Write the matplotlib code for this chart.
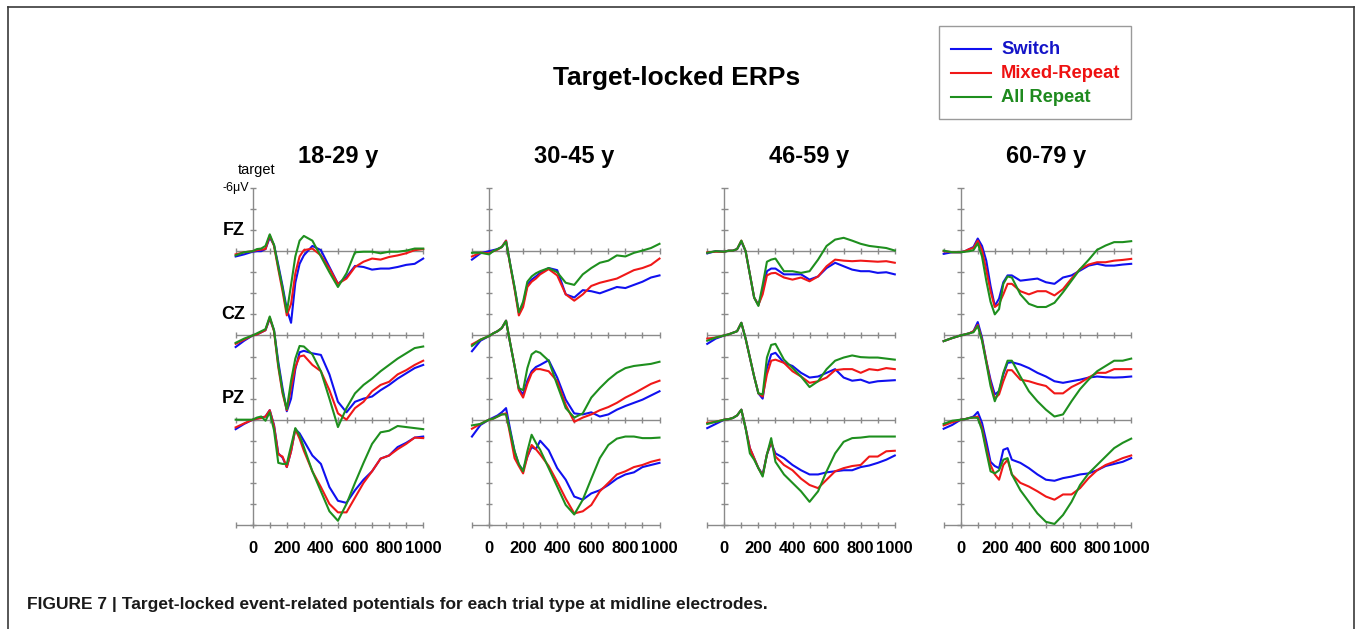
import numpy as np
import matplotlib
matplotlib.use("Agg")
import matplotlib.pyplot as plt
from matplotlib import font_manager
from matplotlib.lines import Line2D
from matplotlib.patches import Rectangle

# ---------------- data (microvolts; negative plotted upward) ----------------
time_ms = [-100, -50, 0, 25, 50, 75, 100, 125, 150, 175, 200, 225, 250, 275, 300,
           350, 400, 450, 500, 550, 600, 650, 700, 750, 800, 850, 900, 950, 1000]
age_groups = ["18-29 y", "30-45 y", "46-59 y", "60-79 y"]
electrodes = ["FZ", "CZ", "PZ"]
conditions = ["Switch", "Mixed-Repeat", "All Repeat"]
x_tick_labels = [0, 200, 400, 600, 800, 1000]

# 18-29 y
fz_18_switch = [0.5, 0.3, 0.05, 0.0, 0.0, -0.2, -1.3, -0.6, 1.3, 3.3, 5.5, 6.8, 3.0, 1.2, 0.4, -0.5, -0.1, 1.5, 3.1, 2.45, 1.4, 1.5, 1.75, 1.65, 1.65, 1.5, 1.3, 1.2, 0.7]
fz_18_mixed = [0.3, 0.1, 0.0, -0.1, -0.15, -0.2, -1.5, -0.5, 1.7, 3.8, 6.1, 5.0, 2.1, 0.5, -0.1, -0.25, 0.4, 1.65, 3.1, 2.6, 1.5, 1.0, 0.7, 0.8, 0.55, 0.4, 0.2, -0.1, -0.2]
fz_18_allrep = [0.4, 0.1, 0.0, -0.2, -0.25, -0.5, -1.6, -0.6, 1.5, 3.5, 5.8, 3.2, 0.5, -1.0, -1.45, -1.0, 0.5, 2.0, 3.4, 2.1, 0.1, 0.05, 0.05, 0.2, 0.05, 0.05, -0.05, -0.25, -0.25]
cz_18_switch = [1.1, 0.5, 0.0, -0.1, -0.3, -0.5, -1.6, -0.5, 2.5, 5.0, 7.2, 6.0, 3.2, 1.6, 1.46, 1.7, 1.85, 3.7, 6.3, 7.3, 6.3, 6.0, 5.8, 5.2, 4.7, 4.1, 3.6, 3.1, 2.8]
cz_18_mixed = [0.8, 0.4, 0.0, -0.1, -0.3, -0.5, -1.7, -0.4, 3.0, 5.5, 7.1, 5.0, 3.0, 2.0, 1.9, 2.8, 3.4, 5.2, 7.4, 8.0, 6.9, 6.3, 5.3, 4.7, 4.4, 3.7, 3.3, 2.8, 2.4]
cz_18_allrep = [0.7, 0.3, 0.0, -0.2, -0.4, -0.6, -1.8, -0.5, 2.8, 5.3, 7.0, 4.3, 2.2, 1.0, 1.05, 1.8, 3.4, 6.0, 8.7, 6.9, 5.5, 4.7, 4.1, 3.4, 2.8, 2.2, 1.7, 1.2, 1.05]
pz_18_switch = [0.9, 0.4, 0.0, -0.1, -0.2, -0.3, -0.9, 0.5, 3.2, 3.6, 4.5, 3.0, 0.9, 1.3, 2.0, 3.4, 4.2, 6.4, 7.7, 7.9, 6.7, 5.7, 4.9, 3.7, 3.4, 2.6, 2.2, 1.7, 1.6]
pz_18_mixed = [0.73, 0.35, 0.0, -0.1, -0.15, -0.3, -0.9, 0.6, 3.3, 3.5, 4.5, 3.0, 0.9, 1.8, 2.95, 4.9, 6.4, 8.0, 8.8, 8.8, 7.4, 6.0, 4.9, 3.7, 3.4, 2.8, 2.3, 1.7, 1.75]
pz_18_allrep = [0.0, 0.0, 0.0, -0.2, -0.3, 0.1, -0.7, 1.0, 4.1, 4.2, 4.2, 2.5, 0.8, 1.5, 2.6, 4.9, 6.8, 8.7, 9.6, 8.0, 6.0, 4.1, 2.3, 1.2, 1.05, 0.6, 0.7, 0.8, 0.9]

# 30-45 y
fz_30_switch = [0.8, 0.2, 0.0, -0.1, -0.2, -0.4, -1.0, 1.3, 3.5, 5.8, 5.0, 3.2, 2.7, 2.4, 2.06, 1.6, 1.8, 4.1, 4.4, 3.7, 3.8, 4.0, 3.7, 3.4, 3.5, 3.2, 2.9, 2.5, 2.3]
fz_30_mixed = [0.5, 0.15, 0.2, 0.0, -0.15, -0.4, -1.0, 1.4, 3.6, 6.1, 5.3, 3.4, 2.9, 2.6, 2.2, 1.7, 2.3, 4.1, 4.7, 4.1, 3.3, 3.0, 2.8, 2.6, 2.2, 1.8, 1.6, 1.3, 0.7]
fz_30_allrep = [0.15, 0.15, 0.3, 0.0, -0.2, -0.4, -0.9, 1.3, 3.4, 5.8, 4.8, 2.9, 2.4, 2.1, 1.9, 1.6, 2.0, 3.0, 3.2, 2.2, 1.6, 1.1, 0.9, 0.4, 0.5, 0.16, -0.06, -0.3, -0.7]
cz_30_switch = [1.5, 0.5, 0.06, -0.2, -0.4, -0.7, -1.4, 0.8, 2.9, 5.1, 5.6, 4.3, 3.4, 3.0, 2.8, 2.35, 4.0, 6.1, 7.4, 7.5, 7.3, 7.7, 7.5, 7.05, 6.7, 6.4, 6.1, 5.7, 5.3]
cz_30_mixed = [0.85, 0.4, 0.06, -0.2, -0.4, -0.7, -1.4, 0.8, 2.9, 5.2, 5.9, 4.6, 3.6, 3.2, 3.2, 3.4, 4.35, 6.6, 8.2, 7.8, 7.5, 7.1, 6.8, 6.4, 5.9, 5.5, 5.05, 4.6, 4.3]
cz_30_allrep = [1.0, 0.4, 0.06, -0.2, -0.4, -0.7, -1.4, 0.8, 2.9, 5.0, 5.2, 3.1, 1.8, 1.5, 1.65, 2.4, 4.7, 6.9, 7.8, 7.4, 5.9, 5.0, 4.2, 3.55, 3.1, 2.9, 2.8, 2.7, 2.5]
pz_30_switch = [1.6, 0.5, 0.0, -0.2, -0.4, -0.7, -1.1, 1.0, 3.0, 4.3, 4.8, 3.5, 2.6, 2.8, 2.0, 2.9, 4.6, 5.7, 7.3, 7.6, 7.0, 6.7, 6.2, 5.6, 5.2, 5.0, 4.5, 4.3, 4.1]
pz_30_mixed = [0.86, 0.4, 0.0, -0.1, -0.3, -0.5, -0.6, 1.5, 3.65, 4.4, 5.1, 3.5, 2.4, 2.8, 3.3, 4.4, 5.9, 7.5, 8.9, 8.7, 8.1, 6.8, 6.0, 5.2, 4.9, 4.5, 4.3, 4.0, 3.8]
pz_30_allrep = [0.54, 0.4, 0.0, -0.1, -0.3, -0.5, -0.5, 1.2, 3.0, 4.2, 4.9, 3.0, 1.43, 2.2, 2.86, 4.6, 6.35, 8.1, 9.0, 7.6, 5.6, 3.65, 2.4, 1.8, 1.6, 1.6, 1.75, 1.75, 1.7]

# 46-59 y
fz_46_switch = [0.2, 0.0, 0.05, -0.05, -0.05, -0.2, -0.9, 0.0, 2.2, 4.4, 5.1, 3.8, 1.9, 1.65, 1.65, 2.2, 2.2, 2.2, 2.7, 2.4, 1.6, 1.1, 1.43, 1.75, 1.9, 1.9, 2.06, 2.0, 2.2]
fz_46_mixed = [0.1, 0.05, 0.05, -0.05, -0.05, -0.2, -1.0, 0.0, 2.2, 4.4, 5.1, 4.1, 2.3, 2.1, 2.06, 2.5, 2.7, 2.5, 2.86, 2.4, 1.43, 0.8, 0.9, 0.95, 0.9, 0.95, 1.0, 0.95, 1.1]
fz_46_allrep = [0.15, 0.0, 0.05, -0.05, -0.05, -0.2, -1.0, 0.0, 2.2, 4.4, 5.2, 3.2, 1.0, 0.8, 0.7, 1.9, 1.9, 2.06, 1.9, 0.8, -0.5, -1.1, -1.27, -1.0, -0.7, -0.5, -0.4, -0.3, -0.06]
cz_46_switch = [0.8, 0.3, 0.0, -0.1, -0.25, -0.4, -1.2, 0.3, 2.1, 3.9, 5.5, 6.0, 3.1, 1.8, 1.65, 2.6, 2.9, 3.55, 4.0, 3.9, 3.55, 3.2, 4.0, 4.3, 4.2, 4.5, 4.35, 4.3, 4.25]
cz_46_mixed = [0.3, 0.2, 0.0, -0.1, -0.25, -0.4, -1.2, 0.3, 2.1, 3.9, 5.5, 5.8, 3.7, 2.4, 2.3, 2.6, 3.4, 3.9, 4.5, 4.35, 4.0, 3.3, 3.2, 3.2, 3.55, 3.2, 3.3, 3.1, 3.2]
cz_46_allrep = [0.5, 0.2, 0.0, -0.1, -0.25, -0.4, -1.2, 0.3, 2.1, 3.9, 5.5, 5.6, 2.1, 0.9, 0.8, 2.3, 3.1, 3.9, 4.9, 4.35, 3.2, 2.4, 2.1, 1.9, 2.06, 2.1, 2.1, 2.2, 2.3]
pz_46_switch = [0.8, 0.4, 0.0, -0.05, -0.16, -0.4, -0.95, 0.8, 2.7, 3.65, 4.6, 5.2, 3.3, 2.2, 3.2, 3.65, 4.3, 4.8, 5.2, 5.2, 5.0, 4.9, 4.8, 4.8, 4.5, 4.35, 4.1, 3.8, 3.4]
pz_46_mixed = [0.3, 0.2, 0.0, -0.05, -0.16, -0.4, -0.95, 0.8, 2.7, 3.65, 4.6, 5.3, 3.3, 2.06, 3.5, 4.3, 4.8, 5.6, 6.2, 6.5, 5.7, 4.9, 4.6, 4.4, 4.3, 3.5, 3.5, 3.0, 2.95]
pz_46_allrep = [0.4, 0.2, 0.0, -0.05, -0.16, -0.4, -0.95, 0.8, 3.2, 3.8, 4.6, 5.4, 3.3, 1.75, 4.0, 5.2, 6.0, 6.8, 7.8, 6.8, 4.9, 3.2, 2.1, 1.75, 1.7, 1.6, 1.6, 1.6, 1.6]

# 60-79 y
fz_60_switch = [0.25, 0.1, 0.1, 0.0, -0.2, -0.4, -1.2, -0.5, 0.9, 3.3, 5.2, 4.5, 2.95, 2.3, 2.3, 2.8, 2.7, 2.6, 2.95, 3.1, 2.5, 2.3, 1.84, 1.37, 1.2, 1.37, 1.37, 1.27, 1.2]
fz_60_mixed = [0.0, 0.1, 0.1, 0.0, -0.2, -0.3, -1.0, -0.1, 1.8, 3.8, 5.3, 5.0, 4.1, 3.1, 3.1, 3.8, 4.1, 3.8, 3.8, 4.2, 3.6, 2.6, 1.7, 1.27, 1.05, 1.05, 0.9, 0.83, 0.73]
fz_60_allrep = [-0.05, 0.1, 0.1, 0.05, 0.0, -0.1, -0.75, 0.5, 2.8, 4.8, 6.0, 5.5, 3.1, 2.4, 2.5, 4.1, 5.0, 5.3, 5.3, 4.9, 3.9, 2.8, 1.7, 0.83, -0.13, -0.54, -0.86, -0.86, -0.95]
cz_60_switch = [0.54, 0.25, 0.0, -0.1, -0.2, -0.4, -1.27, 0.2, 2.4, 4.2, 5.6, 5.3, 3.7, 2.6, 2.54, 2.76, 3.1, 3.55, 3.9, 4.35, 4.5, 4.35, 4.2, 4.0, 3.9, 3.97, 4.0, 3.97, 3.9]
cz_60_mixed = [0.54, 0.25, 0.0, -0.1, -0.2, -0.4, -1.0, 0.4, 2.4, 4.5, 6.0, 5.6, 4.35, 3.3, 3.3, 4.2, 4.35, 4.6, 4.8, 5.5, 5.5, 4.9, 4.5, 4.0, 3.55, 3.55, 3.2, 3.2, 3.2]
cz_60_allrep = [0.54, 0.25, 0.0, -0.1, -0.2, -0.3, -0.9, 0.5, 2.6, 4.8, 6.25, 5.2, 3.55, 2.4, 2.4, 3.9, 5.3, 6.25, 7.05, 7.7, 7.5, 6.25, 5.1, 4.2, 3.4, 2.9, 2.4, 2.4, 2.2]
pz_60_switch = [0.86, 0.5, 0.0, -0.05, -0.16, -0.3, -0.73, 0.3, 2.06, 4.0, 4.4, 4.6, 2.86, 2.7, 3.8, 4.1, 4.6, 5.2, 5.7, 5.8, 5.55, 5.4, 5.2, 5.1, 4.8, 4.4, 4.2, 4.0, 3.65]
pz_60_mixed = [0.54, 0.25, 0.0, -0.05, -0.16, -0.2, -0.3, 0.8, 2.7, 4.3, 5.2, 5.7, 4.3, 3.8, 5.2, 6.0, 6.35, 6.8, 7.3, 7.6, 7.1, 7.1, 6.5, 5.55, 4.8, 4.3, 4.0, 3.65, 3.4]
pz_60_allrep = [0.4, 0.1, 0.0, -0.05, -0.16, -0.2, -0.16, 1.0, 3.0, 4.9, 5.1, 4.8, 3.8, 3.65, 5.2, 6.7, 7.8, 8.9, 9.7, 9.9, 9.05, 7.8, 6.2, 5.1, 4.3, 3.5, 2.7, 2.2, 1.8]

erp = {
    "18-29 y": {"FZ": [fz_18_switch, fz_18_mixed, fz_18_allrep],
                "CZ": [cz_18_switch, cz_18_mixed, cz_18_allrep],
                "PZ": [pz_18_switch, pz_18_mixed, pz_18_allrep]},
    "30-45 y": {"FZ": [fz_30_switch, fz_30_mixed, fz_30_allrep],
                "CZ": [cz_30_switch, cz_30_mixed, cz_30_allrep],
                "PZ": [pz_30_switch, pz_30_mixed, pz_30_allrep]},
    "46-59 y": {"FZ": [fz_46_switch, fz_46_mixed, fz_46_allrep],
                "CZ": [cz_46_switch, cz_46_mixed, cz_46_allrep],
                "PZ": [pz_46_switch, pz_46_mixed, pz_46_allrep]},
    "60-79 y": {"FZ": [fz_60_switch, fz_60_mixed, fz_60_allrep],
                "CZ": [cz_60_switch, cz_60_mixed, cz_60_allrep],
                "PZ": [pz_60_switch, pz_60_mixed, pz_60_allrep]},
}

# ---------------- styling ----------------
installed = {f.name for f in font_manager.fontManager.ttflist}
SANS = "Liberation Sans" if "Liberation Sans" in installed else "DejaVu Sans"
NARROW = "Liberation Sans Narrow" if "Liberation Sans Narrow" in installed else SANS
plt.rcParams["font.family"] = [SANS, "DejaVu Sans"]

line_colors = ["#1010f0", "#f01818", "#1e8f1e"]
text_colors = ["#1414c8", "#ee1111", "#1e8a1e"]
axis_color = "#8a8a8a"

W, H = 1356, 629
fig = plt.figure(figsize=(W / 100, H / 100), dpi=100)


def fx(px):
    return px / W


def fy(py):
    return 1 - py / H


zero_px = [252.7, 489.0, 724.3, 960.7]   # x pixel of t = 0 in each panel
ms_px = 0.1705                            # pixels per ms
top_px, bot_px = 188.0, 525.0             # -6 uV (top) and bottom axis
uv_min, uv_max = -6, 26
uv_px = (bot_px - top_px) / (uv_max - uv_min)
x_lo, x_hi = -115, 1015
y_top, y_bot = -6.8, 26.8
offsets = [0, 8, 16]                      # vertical stacking of FZ / CZ / PZ
tick_ms = 3.2 / ms_px
tick_uv = 3.0 / uv_px

axes = []
for k, age in enumerate(age_groups):
    left = zero_px[k] + x_lo * ms_px
    width = (x_hi - x_lo) * ms_px
    top = top_px + (y_top - uv_min) * uv_px
    bottom = top_px + (y_bot - uv_min) * uv_px
    ax = fig.add_axes([fx(left), fy(bottom), width / W, (bottom - top) / H])
    ax.set_xlim(x_lo, x_hi)
    ax.set_ylim(y_bot, y_top)
    ax.axis("off")
    axes.append(ax)

    # vertical axis with ticks every 2 uV
    ax.vlines(0, uv_min, uv_max, color=axis_color, lw=1.0, zorder=1)
    ax.hlines(np.arange(uv_min, uv_max + 1, 2), -tick_ms, tick_ms,
              color=axis_color, lw=1.0, zorder=1)
    # horizontal baselines (FZ, CZ, PZ) and bottom axis, ticks every 100 ms
    for base in offsets + [uv_max]:
        ax.hlines(base, -100, 1000, color=axis_color, lw=1.0, zorder=1)
        ax.vlines(np.arange(-100, 1001, 100), base - tick_uv, base + tick_uv,
                  color=axis_color, lw=1.0, zorder=1)

    # ERP traces
    t = np.array(time_ms)
    for e, elec in enumerate(electrodes):
        for c in range(len(conditions)):
            v = np.array(erp[age][elec][c]) + offsets[e]
            ax.plot(t, v, color=line_colors[c], lw=1.5, zorder=3 + c,
                    solid_joinstyle="round")

    # x tick labels
    for xt in x_tick_labels:
        ax.text(xt, uv_max + 2.25, str(xt), ha="center", va="center",
                fontsize=12, fontweight="bold", family=[NARROW, SANS])

    # age title
    ax.text(500, -9.0, age, ha="center", va="center", fontsize=17,
            fontweight="bold")

# electrode labels and units on the first panel
ax0 = axes[0]
for e, elec in enumerate(electrodes):
    ax0.text(-45, offsets[e] - 2, elec, ha="right", va="center",
             fontsize=13, fontweight="bold")
ax0.text(-20, -6, "-6\u03bcV", ha="right", va="center", fontsize=9)
ax0.text(22, -7.7, "target", ha="center", va="center", fontsize=10.5)

# main title
fig.text(fx(677), fy(78), "Target-locked ERPs", ha="center", va="center",
         fontsize=19, fontweight="bold")

# legend (drawn by hand to match the boxed layout)
fig.add_artist(Rectangle((fx(939), fy(119)), 192 / W, 93 / H,
                         transform=fig.transFigure, fill=False,
                         ec="#9a9a9a", lw=1.0))
for i, (lab, row_y) in enumerate(zip(conditions, [49, 73, 97])):
    fig.add_artist(Line2D([fx(951), fx(991)], [fy(row_y), fy(row_y)],
                          transform=fig.transFigure, color=line_colors[i],
                          lw=1.5))
    fig.text(fx(1001), fy(row_y), lab, ha="left", va="center", fontsize=13.2,
             fontweight="bold", color=text_colors[i])

# caption
fig.text(fx(27), fy(604),
         "FIGURE 7 | Target-locked event-related potentials for each trial type at midline electrodes.",
         ha="left", va="center", fontsize=12.5, fontweight="bold",
         family=[NARROW, SANS], color="#1a1a1a")

# outer frame (top, left, right)
frame_c = "#3a3a3a"
fig.add_artist(Line2D([fx(8), fx(1354)], [fy(7), fy(7)],
                      transform=fig.transFigure, color=frame_c, lw=1.2))
fig.add_artist(Line2D([fx(8), fx(8)], [fy(7), fy(629)],
                      transform=fig.transFigure, color=frame_c, lw=1.2))
fig.add_artist(Line2D([fx(1354), fx(1354)], [fy(7), fy(629)],
                      transform=fig.transFigure, color=frame_c, lw=1.2))

fig.savefig("out.png", dpi=100, facecolor="white")
